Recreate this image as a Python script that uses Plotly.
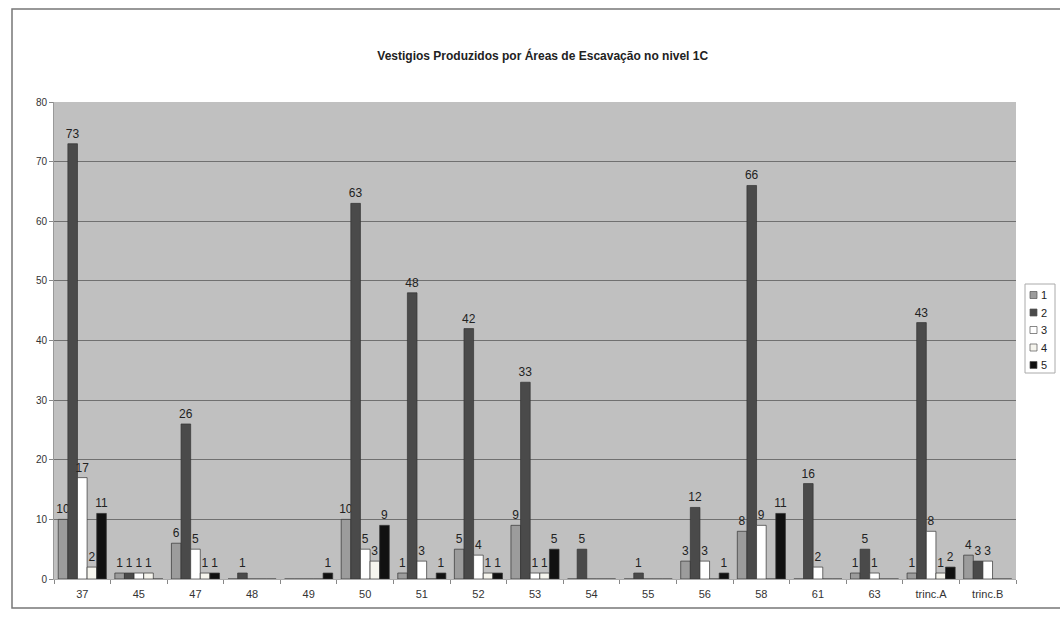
import plotly.graph_objects as go

categories = ["37", "45", "47", "48", "49", "50", "51", "52", "53", "54", "55",
              "56", "58", "61", "63", "trinc.A", "trinc.B"]
series_names = ["1", "2", "3", "4", "5"]
s1 = [10, 1, 6, 0, 0, 10, 1, 5, 9, 0, 0, 3, 8, 0, 1, 1, 4]
s2 = [73, 1, 26, 1, 0, 63, 48, 42, 33, 5, 1, 12, 66, 16, 5, 43, 3]
s3 = [17, 1, 5, 0, 0, 5, 3, 4, 1, 0, 0, 3, 9, 2, 1, 8, 3]
s4 = [2, 1, 1, 0, 0, 3, 0, 1, 1, 0, 0, 0, 0, 0, 0, 1, 0]
s5 = [11, 0, 1, 0, 1, 9, 1, 1, 5, 0, 0, 1, 11, 0, 0, 2, 0]
y_ticks = [0, 10, 20, 30, 40, 50, 60, 70, 80]
title = "Vestigios Produzidos por Áreas de Escavação no nivel 1C"

colors = ["#9c9c9c", "#4a4a4a", "#ffffff", "#f6f5ee", "#111111"]
FONT = "Liberation Sans, Arial, sans-serif"

fig = go.Figure()
for name, vals, col in zip(series_names, [s1, s2, s3, s4, s5], colors):
    fig.add_trace(go.Bar(
        x=categories, y=vals, name=name,
        marker=dict(color=col, line=dict(color="#333333", width=0.7)),
        text=[str(v) if v else "" for v in vals],
        textposition="outside",
        textfont=dict(family=FONT, size=12, color="#222222"),
        constraintext="none",
        cliponaxis=False,
        showlegend=False,
        hoverinfo="skip",
    ))

L, R, T, B = 54, 44, 102, 40
W, H = 1060, 619
pw, ph = W - L - R, H - T - B


def px_x(p):
    return (p - L) / pw


def px_y(p):
    return (H - B - p) / ph


fig.update_layout(
    width=W, height=H,
    margin=dict(l=L, r=R, t=T, b=B, autoexpand=False),
    paper_bgcolor="white",
    plot_bgcolor="#c0c0c0",
    barmode="group",
    bargap=0.15,
    bargroupgap=0,
    showlegend=False,
    title=dict(text="<b>" + title + "</b>", x=0.512, xanchor="center",
               y=1 - 56 / H, yanchor="middle",
               font=dict(family=FONT, size=12, color="#222222")),
    font=dict(family=FONT, size=10, color="#333333"),
)
fig.update_xaxes(
    type="category", tickson="boundaries", ticks="outside", ticklen=4,
    tickcolor="#888888", showline=True, linecolor="#aaaaaa", linewidth=1,
    showgrid=False, ticklabelstandoff=5,
    tickfont=dict(family=FONT, size=11, color="#333333"),
)
fig.update_yaxes(
    range=[0, 80], tickvals=y_ticks, ticks="outside", ticklen=4,
    tickcolor="#888888", showgrid=True, gridcolor="#707070", gridwidth=1,
    showline=True, linecolor="#999999", zeroline=False,
    tickfont=dict(family=FONT, size=10, color="#333333"),
)
# outer chart frame
fig.add_shape(type="rect", xref="paper", yref="paper",
              x0=px_x(12), x1=px_x(1064), y0=px_y(608), y1=px_y(9),
              line=dict(color="#777777", width=1.5), fillcolor="rgba(0,0,0,0)",
              layer="below")

# compact legend (box, swatches, labels)
fig.add_shape(type="rect", xref="paper", yref="paper",
              x0=px_x(1025), x1=px_x(1055), y0=px_y(373), y1=px_y(284),
              line=dict(color="#aaaaaa", width=1), fillcolor="white")
for i, (name, col) in enumerate(zip(series_names, colors)):
    yc = 295 + i * 17.5
    fig.add_shape(type="rect", xref="paper", yref="paper",
                  x0=px_x(1030), x1=px_x(1037), y0=px_y(yc + 3.5), y1=px_y(yc - 3.5),
                  line=dict(color="#555555", width=0.7), fillcolor=col)
    fig.add_annotation(xref="paper", yref="paper", x=px_x(1039), y=px_y(yc),
                       text=name, showarrow=False, xanchor="left", yanchor="middle",
                       font=dict(family=FONT, size=11, color="#222222"))

fig.write_html(
    "out.html",
    config={"displayModeBar": False},
    post_script="document.body.style.margin='0';document.body.style.overflow='hidden';",
)
